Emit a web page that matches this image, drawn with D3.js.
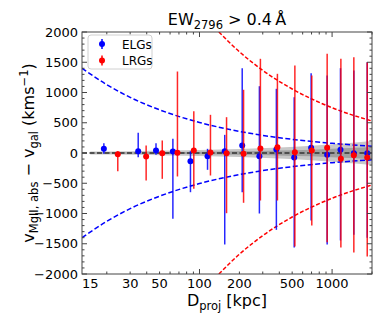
<!DOCTYPE html>
<html>
<head>
<meta charset="utf-8">
<script src="https://cdn.jsdelivr.net/npm/d3@7"></script>
<style>
body { margin: 0; background: #fff; }
text { font-family: "DejaVu Sans", sans-serif; fill: #000; }
</style>
</head>
<body>
<div id="chart"></div>
<script>
// ELGs (blue): projected distance, velocity offset, upper / lower end of error bar
var elgD  = [19, 34.5, 47, 63, 85.5, 115, 155, 210, 283, 380, 518, 695, 918, 1157, 1459, 1841];
var elgV  = [70, 30, 41, 25, -135, -53, 30, 124, -53, 58, -74, 86, -30, 53, -3, -3];
var elgHi = [162, 334, 162, 235, 30, 69, 300, 1402, 1104, 1061, 922, 1319, 1281, 1402, 1364, 1500];
var elgLo = [-13, -69, -30, -1088, -648, -278, -1512, -648, -1000, -1270, -1560, -1116, -1512, -1446, -1350, -1400];

// LRGs (red)
var lrgD  = [24.2, 39.6, 52.4, 68.2, 90.6, 121, 160, 215, 288, 387, 524, 703, 918, 1165, 1459, 1841];
var lrgV  = [-20, -58, -3, 3, 41, 8, -3, -13, 74, 96, 13, 41, 86, -96, -36, -74];
var lrgHi = [30, 124, 207, 1347, 690, 631, 592, 1045, 1557, 1309, 1446, 1281, 1640, 1557, 1584, 1500];
var lrgLo = [-300, -455, -427, -388, -592, -372, -995, -823, -785, -785, -1545, -1200, -1475, -1562, -1645, -1711];

// dashed envelopes
var elgEnvD = [13, 20, 30, 50, 100, 200, 500, 1000, 2000];
var elgEnvV = [1400, 1130, 920, 714, 505, 357, 226, 160, 113];
var lrgEnvD = [140, 200, 300, 500, 1000, 2000];
var lrgEnvV = [2000, 1673, 1366, 1058, 748, 529];

// grey band around zero
var bandD     = [15, 30, 60, 100, 200, 400, 700, 1000, 1500, 2000];
var bandOuter = [25, 30, 40, 50, 65, 90, 120, 145, 175, 200];
var bandInner = [10, 12, 16, 20, 28, 40, 55, 70, 85, 100];

var xTickVals = [15, 30, 50, 100, 200, 500, 1000];
var xMinor = [20, 30, 40, 50, 60, 70, 80, 90, 200, 300, 400, 500, 600, 700, 800, 900, 2000];
var xMajor = [100, 1000];
var yTickVals = [-2000, -1500, -1000, -500, 0, 500, 1000, 1500, 2000];

var W = 382, H = 323;
var pL = 82, pR = 372, pT = 32, pB = 274;

var svg = d3.select("#chart").append("svg")
    .attr("width", W).attr("height", H);

var x = d3.scaleLog().domain([13, 2000]).range([pL, pR]);
var y = d3.scaleLinear().domain([-2000, 2000]).range([pB, pT]);

svg.append("clipPath").attr("id", "clip")
    .append("rect").attr("x", pL).attr("y", pT)
    .attr("width", pR - pL).attr("height", pB - pT);

var plot = svg.append("g").attr("clip-path", "url(#clip)");

// band
var bandIdx = d3.range(bandD.length);
var areaOuter = d3.area().curve(d3.curveMonotoneX)
    .x(function(i) { return x(bandD[i]); })
    .y0(function(i) { return y(-bandOuter[i]); })
    .y1(function(i) { return y(bandOuter[i]); });
var areaInner = d3.area().curve(d3.curveMonotoneX)
    .x(function(i) { return x(bandD[i]); })
    .y0(function(i) { return y(-bandInner[i]); })
    .y1(function(i) { return y(bandInner[i]); });
plot.append("path").attr("d", areaOuter(bandIdx)).attr("fill", "#c8c8c8");
plot.append("path").attr("d", areaInner(bandIdx)).attr("fill", "#a0a0a0");

// zero line
plot.append("line")
    .attr("x1", pL).attr("x2", pR)
    .attr("y1", y(0)).attr("y2", y(0))
    .attr("stroke", "#333").attr("stroke-width", 1.5)
    .attr("stroke-dasharray", "5,2.5");

// envelopes
function envLine(D, V, sign) {
    return d3.line().curve(d3.curveMonotoneX)
        .x(function(i) { return x(D[i]); })
        .y(function(i) { return y(sign * V[i]); })(d3.range(D.length));
}
[1, -1].forEach(function(s) {
    plot.append("path").attr("d", envLine(elgEnvD, elgEnvV, s))
        .attr("fill", "none").attr("stroke", "#0000ff")
        .attr("stroke-width", 1.5).attr("stroke-dasharray", "5,2.5");
    plot.append("path").attr("d", envLine(lrgEnvD, lrgEnvV, s))
        .attr("fill", "none").attr("stroke", "#ff0000")
        .attr("stroke-width", 1.5).attr("stroke-dasharray", "4,2");
});

// error bars + points
function drawSeries(D, V, Hi, Lo, color) {
    var g = plot.append("g");
    var idx = d3.range(D.length);
    g.selectAll("line").data(idx).enter().append("line")
        .attr("x1", function(i) { return x(D[i]); })
        .attr("x2", function(i) { return x(D[i]); })
        .attr("y1", function(i) { return y(Hi[i]); })
        .attr("y2", function(i) { return y(Lo[i]); })
        .attr("stroke", color).attr("stroke-width", 1.5)
        .attr("stroke-opacity", 0.85);
    g.selectAll("circle").data(idx).enter().append("circle")
        .attr("cx", function(i) { return x(D[i]); })
        .attr("cy", function(i) { return y(V[i]); })
        .attr("r", 3).attr("fill", color);
}
drawSeries(elgD, elgV, elgHi, elgLo, "#0000ff");
drawSeries(lrgD, lrgV, lrgHi, lrgLo, "#ff0000");

// axes frame
var axisColor = "#444";
svg.append("rect").attr("x", pL).attr("y", pT)
    .attr("width", pR - pL).attr("height", pB - pT)
    .attr("fill", "none").attr("stroke", axisColor).attr("stroke-width", 1);

// y ticks (inward, both sides)
var yMinor = d3.range(-2000, 2001, 100);
yMinor.forEach(function(v) {
    var major = v % 500 === 0;
    var len = major ? 5 : 2.5;
    svg.append("line").attr("x1", pL).attr("x2", pL + len)
        .attr("y1", y(v)).attr("y2", y(v)).attr("stroke", axisColor);
    svg.append("line").attr("x1", pR).attr("x2", pR - len)
        .attr("y1", y(v)).attr("y2", y(v)).attr("stroke", axisColor);
});
svg.selectAll(".ylab").data(yTickVals).enter().append("text")
    .attr("class", "ylab")
    .attr("x", pL - 4).attr("y", function(v) { return y(v) + 4.5; })
    .attr("text-anchor", "end").attr("font-size", 13)
    .text(function(v) { return v < 0 ? "\u2212" + Math.abs(v) : v; });

// x ticks (inward, top and bottom)
xMinor.concat(xMajor).forEach(function(v) {
    var len = xMajor.indexOf(v) >= 0 ? 5 : 2.5;
    svg.append("line").attr("x1", x(v)).attr("x2", x(v))
        .attr("y1", pB).attr("y2", pB - len).attr("stroke", axisColor);
    svg.append("line").attr("x1", x(v)).attr("x2", x(v))
        .attr("y1", pT).attr("y2", pT + len).attr("stroke", axisColor);
});
svg.selectAll(".xlab").data(xTickVals).enter().append("text")
    .attr("class", "xlab")
    .attr("x", function(v) { return x(v); }).attr("y", pB + 14)
    .attr("text-anchor", "middle").attr("font-size", 13)
    .text(function(v) { return v; });

// axis titles
var xl = svg.append("text").attr("x", (pL + pR) / 2).attr("y", 306)
    .attr("text-anchor", "middle").attr("font-size", 16);
xl.append("tspan").text("D");
xl.append("tspan").attr("font-size", 11.5).attr("dy", 4).text("proj");
xl.append("tspan").attr("dy", -4).text(" [kpc]");

var yl = svg.append("text")
    .attr("transform", "translate(34," + y(0) + ") rotate(-90)")
    .attr("text-anchor", "middle").attr("font-size", 16);
yl.append("tspan").text("v");
yl.append("tspan").attr("font-size", 11.5).attr("dy", 4).text("MgII, abs");
yl.append("tspan").attr("dy", -4).text(" \u2212 v");
yl.append("tspan").attr("font-size", 11.5).attr("dy", 4).text("gal");
yl.append("tspan").attr("dy", -4).text(" (kms");
yl.append("tspan").attr("font-size", 11.5).attr("dy", -6).text("\u22121");
yl.append("tspan").attr("dy", 6).text(")");

var tt = svg.append("text").attr("x", (pL + pR) / 2).attr("y", 25)
    .attr("text-anchor", "middle").attr("font-size", 16);
tt.append("tspan").text("EW");
tt.append("tspan").attr("font-size", 11.5).attr("dy", 4).text("2796");
tt.append("tspan").attr("dy", -4).text(" > 0.4\u2009\u00c5");

// legend
var lg = svg.append("g");
lg.append("rect").attr("x", 88).attr("y", 35).attr("width", 64).attr("height", 34)
    .attr("rx", 3).attr("fill", "#fff").attr("stroke", "#d0d0d0");
[["ELGs", "#0000ff"], ["LRGs", "#ff0000"]].forEach(function(d, i) {
    var cy = 44 + i * 16.5;
    lg.append("line").attr("x1", 102).attr("x2", 102)
        .attr("y1", cy - 5).attr("y2", cy + 5)
        .attr("stroke", d[1]).attr("stroke-width", 1.5);
    lg.append("circle").attr("cx", 102).attr("cy", cy).attr("r", 3).attr("fill", d[1]);
    lg.append("text").attr("x", 122).attr("y", cy + 4.5)
        .attr("font-size", 12).text(d[0]);
});
</script>
</body>
</html>
